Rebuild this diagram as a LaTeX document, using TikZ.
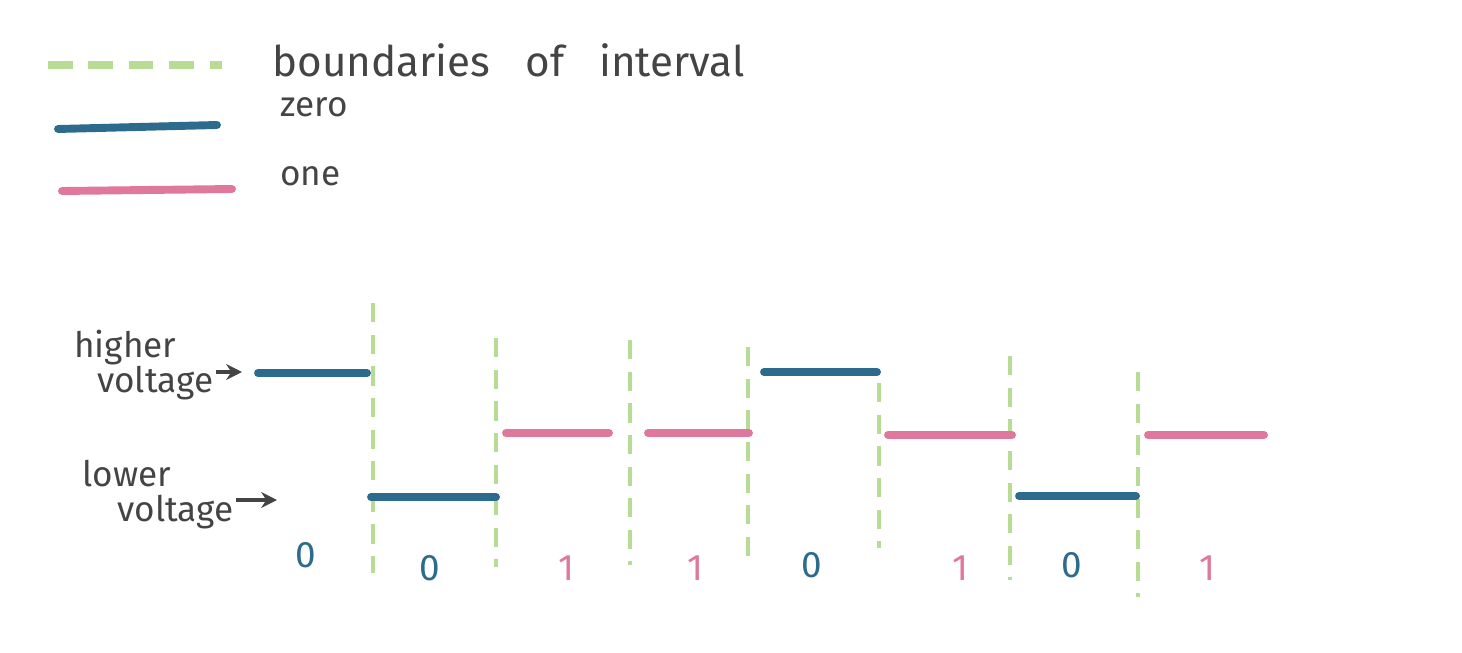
\documentclass[tikz,border=0pt]{standalone}
\usepackage{fontspec}
\setmainfont{Fira Sans}
\usepackage{tikz}
\usetikzlibrary{positioning,arrows.meta}
\definecolor{bndgreen}{HTML}{B8DC94}
\definecolor{zeroblue}{HTML}{2D6B8C}
\definecolor{onepink}{HTML}{E0789E}
\definecolor{inkgray}{HTML}{444444}

\begin{document}
\begin{tikzpicture}[x=0.02cm,y=-0.02cm,
		bound/.style={bndgreen, line width=2.2pt, dash pattern=on 11pt off 7pt},
		zerolvl/.style={zeroblue, line width=4.5pt, line cap=round},
		onelvl/.style={onepink, line width=4.5pt, line cap=round},
		hand/.style={inkgray, font=\fontsize{20}{24}\selectfont, inner sep=0pt},
		pointer/.style={inkgray, line width=2.6pt, -{Stealth[length=9pt,width=9pt]}},
		bitlbl/.style={font=\fontsize{21}{24}\selectfont, inner sep=0pt}]
				% frame of 1462 x 652 px
				\useasboundingbox (0,0) rectangle (1462,652);
				
				% legend
				\coordinate (Lg1) at (48,65);  \coordinate (Lg2) at (222,65);
				\coordinate (Lz1) at (58,129); \coordinate (Lz2) at (217,125);
				\coordinate (Lo1) at (62,191); \coordinate (Lo2) at (232,189);
				\draw[bndgreen, line width=4.5pt, dash pattern=on 14pt off 9pt] (Lg1) -- (Lg2);
				\draw[zerolvl] (Lz1) -- (Lz2);
				\draw[onelvl] (Lo1) -- (Lo2);
				\node[hand, font=\fontsize{24}{28}\selectfont, anchor=base west] (tbound) at (272,76)
					{boundaries\hspace{20pt}of\hspace{20pt}interval};
				\node[hand, anchor=base west] (tzero) at (280,116) {zero};
				\node[hand, anchor=base west] (tone) at (280,185) {one};
				
				% boundaries of the intervals
				\foreach \x/\top/\bot [count=\i] in {373/303/573, 496/338/567, 630/340/565,
						748/347/563, 879/383/548, 1010/356/580, 1138/372/597}{
					\coordinate (B\i t) at (\x,\top);
					\coordinate (B\i b) at (\x,\bot);
					\draw[bound] (B\i t) -- (B\i b);
				}
				
				% voltage levels
				\foreach \a/\b/\y/\s [count=\i] in {258/367/373/zerolvl, 371/496/497/zerolvl,
						506/609/433/onelvl, 648/749/433/onelvl, 764/877/372/zerolvl,
						888/1012/435/onelvl, 1019/1136/496/zerolvl, 1148/1264/435/onelvl}{
					\coordinate (V\i a) at (\a,\y);
					\coordinate (V\i b) at (\b,\y);
					\draw[\s] (V\i a) -- (V\i b);
				}
				
				% axis labels
				\node[hand, align=left, anchor=north west] (thigh) at (74,330) {higher\\[-4pt]\hspace*{13pt}voltage};
				\node[hand, align=left, anchor=north west] (tlow) at (82,460) {lower\\[-4pt]\hspace*{20pt}voltage};
				\coordinate (Ahigh) at (242,372);
				\coordinate (Alow) at (277,500);
				\draw[pointer] (thigh.east |- Ahigh) ++(2,0) -- (Ahigh);
				\draw[pointer] (tlow.east |- Alow) ++(2,0) -- (Alow);
				
				% bits
				\foreach \x/\y/\b [count=\i] in {306/555/0, 430/568/0, 566/568/1, 695/568/1,
						812/565/0, 960/568/1, 1072/565/0, 1207/568/1}{
					\ifnum\b=0
						\node[bitlbl, zeroblue] (bit\i) at (\x,\y) {0};
					\else
						\node[bitlbl, onepink] (bit\i) at (\x,\y) {1};
					\fi
				}
\end{tikzpicture}
\end{document}
